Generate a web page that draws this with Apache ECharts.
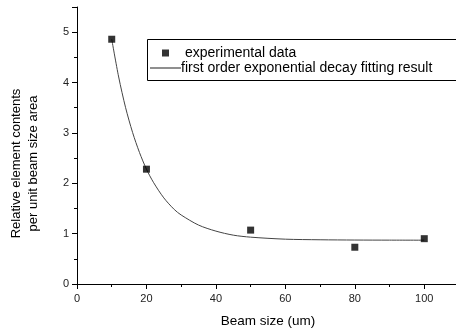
<!DOCTYPE html>
<html>
<head>
<meta charset="utf-8">
<script src="https://cdn.jsdelivr.net/npm/echarts@6/dist/echarts.min.js"></script>
<style>html,body{margin:0;padding:0;background:#fff}#c{width:456px;height:329px}</style>
</head>
<body>
<div id="c"></div>
<script>
// Experimental data
const expX = [10, 20, 50, 80, 100];
const expY = [4.86, 2.28, 1.07, 0.73, 0.90];
// Fitted curve (first order exponential decay)
const fitX = [10, 12, 14, 16, 18, 20, 22, 25, 28, 30, 35, 40, 45, 50, 60, 70, 80, 90, 100];
const fitY = [4.86, 4.11, 3.50, 3.01, 2.61, 2.28, 2.02, 1.71, 1.48, 1.37, 1.17, 1.05, 0.97, 0.93, 0.89, 0.878, 0.873, 0.871, 0.87];
const xTicks = [0, 20, 40, 60, 80, 100];
const yTicks = [0, 1, 2, 3, 4, 5];
const seriesNames = ['experimental data', 'first order exponential decay fitting result'];

const chart = echarts.init(document.getElementById('c'), null, {renderer: 'canvas'});
const font = 'Liberation Sans, Arial, sans-serif';
chart.setOption({
  animation: false,
  textStyle: {fontFamily: font},
  grid: {left: 77, right: -3, top: 7, bottom: 45, containLabel: false, outerBoundsMode: 'none'},
  xAxis: {
    type: 'value', min: 0, max: 110, interval: 20,
    name: 'Beam size (um)', nameLocation: 'middle', nameGap: 30,
    nameTextStyle: {fontSize: 13.5, color: '#000', fontFamily: font},
    axisLine: {lineStyle: {color: '#000', width: 1}},
    axisTick: {show: true, inside: false, length: 5, lineStyle: {color: '#000'}},
    minorTick: {show: true, splitNumber: 2, length: 3, lineStyle: {color: '#000'}},
    axisLabel: {fontSize: 11, color: '#222', margin: 9, fontFamily: font,
      formatter: v => xTicks.includes(v) ? String(v) : ''},
    splitLine: {show: false}
  },
  yAxis: {
    type: 'value', min: 0, max: 5.5, interval: 1,
    name: 'Relative element contents\nper unit beam size area', nameLocation: 'middle', nameGap: 35,
    nameRotate: 90,
    nameTextStyle: {fontSize: 13, color: '#000', lineHeight: 17, fontFamily: font, padding: [0, 36, 0, 0]},
    axisLine: {show: true, lineStyle: {color: '#000', width: 1}},
    axisTick: {show: true, inside: false, length: 5, lineStyle: {color: '#000'}},
    minorTick: {show: true, splitNumber: 2, length: 3, lineStyle: {color: '#000'}},
    axisLabel: {fontSize: 11, color: '#222', margin: 8, fontFamily: font,
      formatter: v => yTicks.includes(v) ? String(v) : ''},
    splitLine: {show: false}
  },
  legend: {
    left: 150, top: 46, orient: 'vertical', padding: 0, itemGap: 1,
    itemWidth: 31, itemHeight: 7, symbolKeepAspect: true,
    textStyle: {fontSize: 14, color: '#000', fontFamily: font},
    data: [
      {name: seriesNames[0], icon: 'path://M0,0H1V1H0Z', itemStyle: {color: '#000'},
        textStyle: {fontSize: 14, color: '#000', padding: [0, 0, 0, -1]}},
      {name: seriesNames[1], icon: 'path://M0,0H35V1H0Z', itemStyle: {color: '#000'},
        textStyle: {fontSize: 14, color: '#000', padding: [0, 0, 0, -5]}}
    ]
  },
  graphic: [{
    type: 'rect', shape: {x: 147.5, y: 39.5, width: 320, height: 41},
    style: {fill: 'none', stroke: '#000', lineWidth: 1}, z: 100, silent: true
  }],
  series: [
    {
      name: seriesNames[1], type: 'line', smooth: 0.3, showSymbol: false, symbol: 'none',
      data: fitX.map((x, i) => [x, fitY[i]]),
      lineStyle: {color: '#444', width: 1}, itemStyle: {color: '#000'}, z: 2
    },
    {
      name: seriesNames[0], type: 'scatter', symbol: 'rect', symbolSize: 7,
      data: expX.map((x, i) => [x, expY[i]]),
      itemStyle: {color: '#000'}, z: 3
    }
  ]
});
</script>
</body>
</html>
